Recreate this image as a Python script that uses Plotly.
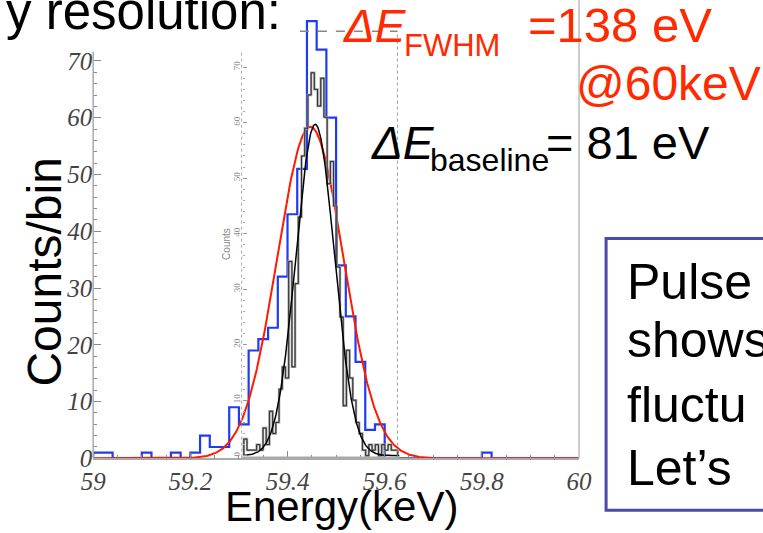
import numpy as np
import plotly.graph_objects as go

W, H = 763, 533

# ---------------- data ----------------
# blue histogram (main axes), bin width 0.02 keV starting at 59.00
blue_bin_width = 0.02
blue_start = 59.00
blue_counts = [1, 1, 0, 0, 0, 1, 0, 0, 1, 0,
               1, 4, 2, 2, 9, 6, 19, 21, 23, 32,
               43, 51, 77, 72, 60, 34, 25, 17, 5, 6,
               0, 0, 0, 0, 0, 0, 0, 0, 0, 0,
               1, 0, 0, 0, 0, 0, 0, 0, 0, 0]

# red gaussian fit (main axes)
red_amp, red_mu, red_sigma = 58.4, 59.447, 0.068

# black histogram (inset), bin width 0.0066 keV starting at 59.31
black_bin_width = 0.0066
black_start = 59.31
black_counts = [3, 1, 1, 1, 2, 1, 5, 2, 8, 4,
                6, 12, 16, 14, 35, 16, 31, 43, 54, 59,
                65, 69, 66, 63, 68, 61, 49, 53, 45, 34,
                25, 9, 19, 14, 10, 6, 4, 1, 0, 2,
                1, 2, 0, 2, 1, 2, 1, 1]

# black gaussian fit (inset)
blk_amp, blk_mu, blk_sigma = 59.7, 59.457, 0.0395

x_ticks = [59.0, 59.2, 59.4, 59.6, 59.8, 60.0]
x_ticklabels = ["59", "59.2", "59.4", "59.6", "59.8", "60"]
y_ticks = [0, 10, 20, 30, 40, 50, 60, 70]
y_ticklabels = ["0", "10", "20", "30", "40", "50", "60", "70"]
inset_y_ticks = [0, 10, 20, 30, 40, 50, 60, 70]
inset_y_ticklabels = ["0", "10", "20", "30", "40", "50", "60", "70"]

# ---------------- helpers (layout only) ----------------
def px(xp):
    return xp / W

def py(yp):
    return 1 - yp / H

def step_xy(start, width, counts):
    edges = [start + width * i for i in range(len(counts) + 1)]
    xs = [edges[0]] + edges
    ys = [0] + list(counts) + [counts[-1]]
    xs = xs + [edges[-1]]
    ys = ys + [0]
    return xs, ys

fig = go.Figure()

# blue histogram
bx, by = step_xy(blue_start, blue_bin_width, blue_counts)
fig.add_trace(go.Scatter(x=bx, y=by, mode="lines", line_shape="hv",
                         line=dict(color="#1f3cf0", width=2.2),
                         hoverinfo="skip", showlegend=False))

# black histogram (inset, y2)
kx, ky = step_xy(black_start, black_bin_width, black_counts)
fig.add_trace(go.Scatter(x=kx, y=ky, mode="lines", line_shape="hv",
                         line=dict(color="#a0a0a0", width=2.4),
                         yaxis="y2", hoverinfo="skip", showlegend=False))
fig.add_trace(go.Scatter(x=kx, y=ky, mode="lines", line_shape="hv",
                         line=dict(color="#111111", width=0.8),
                         yaxis="y2", hoverinfo="skip", showlegend=False))

# black fit
ex = np.linspace(59.31, 59.63, 300)
fig.add_trace(go.Scatter(x=ex, y=blk_amp * np.exp(-0.5 * ((ex - blk_mu) / blk_sigma) ** 2),
                         mode="lines", line=dict(color="#000000", width=1.5),
                         yaxis="y2", hoverinfo="skip", showlegend=False))

# red fit
rx = np.linspace(59.0, 60.0, 600)
fig.add_trace(go.Scatter(x=rx, y=red_amp * np.exp(-0.5 * ((rx - red_mu) / red_sigma) ** 2),
                         mode="lines", line=dict(color="#ff1a00", width=2),
                         hoverinfo="skip", showlegend=False))

tickfont = dict(family="Liberation Serif, Times New Roman, serif", size=25,
                color="#444444", style="italic")

y_top = 470.7 / 5.83

fig.update_layout(
    width=W, height=H,
    margin=dict(l=0, r=0, t=0, b=0),
    paper_bgcolor="white", plot_bgcolor="white",
    xaxis=dict(domain=[px(83), px(586)], range=[59.0, 60.0],
               tickmode="array", tickvals=x_ticks, ticktext=x_ticklabels,
               ticks="inside", ticklen=8, tickcolor="#888888", tickwidth=1,
               minor=dict(tickmode="array",
                          tickvals=[59.05, 59.1, 59.15, 59.25, 59.3, 59.35, 59.45, 59.5, 59.55,
                                    59.65, 59.7, 59.75, 59.85, 59.9, 59.95],
                          ticks="inside", ticklen=4, tickcolor="#888888"),
               showline=True, linecolor="#aaaaaa", linewidth=1.5,
               showgrid=False, zeroline=False, tickfont=tickfont),
    yaxis=dict(domain=[py(470.7), 1], range=[0, y_top],
               tickmode="array", tickvals=y_ticks, ticktext=y_ticklabels,
               ticks="inside", ticklen=8, tickcolor="#888888",
               minor=dict(tickmode="array",
                          tickvals=[v for v in range(2, 72, 2) if v % 10 != 0],
                          ticks="inside", ticklen=4, tickcolor="#888888"),
               showline=False, showgrid=False, zeroline=False, tickfont=tickfont),
    yaxis2=dict(overlaying="y", anchor="free", position=px(236.7), side="left",
                range=[-(470.7 - 468) / 5.7, 468 / 5.7],
                tickmode="array", tickvals=inset_y_ticks, ticktext=inset_y_ticklabels,
                ticks="inside", ticklen=4, tickcolor="#999999",
                minor=dict(tickmode="array",
                           tickvals=[v for v in range(2, 72, 2) if v % 10 != 0],
                           ticks="inside", ticklen=2, tickcolor="#aaaaaa"),
                tickangle=-90,
                tickfont=dict(family="Liberation Serif, serif", size=9, color="#888888"),
                showline=False, showgrid=False, zeroline=False),
)

shapes = []
# main left axis line (starts below the title area)
shapes.append(dict(type="line", xref="paper", yref="paper",
                   x0=px(83), x1=px(83), y0=py(470.7), y1=py(53),
                   line=dict(color="#aaaaaa", width=1.5)))
# main right axis line
shapes.append(dict(type="line", xref="paper", yref="paper",
                   x0=px(586), x1=px(586), y0=py(470.7), y1=1,
                   line=dict(color="#bbbbbb", width=1.5)))
# inset frame
shapes.append(dict(type="line", xref="paper", yref="paper",
                   x0=px(236.7), x1=px(236.7), y0=py(470), y1=py(53),
                   line=dict(color="#aaaaaa", width=1, dash="dot")))
shapes.append(dict(type="line", xref="paper", yref="paper",
                   x0=px(398), x1=px(398), y0=py(470), y1=py(32),
                   line=dict(color="#999999", width=1, dash="dot")))
shapes.append(dict(type="line", xref="paper", yref="paper",
                   x0=px(297), x1=px(398), y0=py(32), y1=py(32),
                   line=dict(color="#888888", width=1.5, dash="dash")))
shapes.append(dict(type="line", xref="paper", yref="paper",
                   x0=px(236.7), x1=px(400), y0=py(470), y1=py(470),
                   line=dict(color="#aaaaaa", width=2.5)))
# slide text box
shapes.append(dict(type="rect", xref="paper", yref="paper",
                   x0=px(614), x1=px(800), y0=py(524), y1=py(245),
                   line=dict(color="#4a4aa8", width=3), fillcolor="rgba(0,0,0,0)"))
fig.update_layout(shapes=shapes)

SANS = "Liberation Sans, Arial, sans-serif"

def text(s, x_left, baseline, size, color="#000000", anchor="left"):
    center = baseline - 0.3465 * size
    fig.add_annotation(text=s, x=px(x_left), y=py(center), xref="paper", yref="paper",
                       xanchor=anchor, yanchor="middle", showarrow=False, borderpad=0,
                       font=dict(family=SANS, size=size, color=color))

RED = "#ff2a00"
text("y resolution:", -8, 29, 51)
text("<i>ΔE</i>", 341, 43, 46, RED)
text("FWHM", 404, 57, 31, RED)
text("=138 eV", 532, 43, 49, RED)
text("@60keV", 582, 102, 48, RED)
text("<i>ΔE</i>", 370, 163, 46)
text("baseline", 431, 175, 32)
text("= 81 eV", 551, 163, 47)
text("Energy(keV)", 340, 535, 42, anchor="center")

for line, bl in zip(["Pulse", "shows", "fluctu", "Let’s"], [307, 367, 433, 498]):
    text(line, 635, bl, 50)

fig.add_annotation(text="Counts/bin", x=px(33), y=py(279), xref="paper", yref="paper",
                   xanchor="center", yanchor="middle", showarrow=False, textangle=-90,
                   font=dict(family=SANS, size=48, color="#000000"))
fig.add_annotation(text="Counts", x=px(221), y=py(250), xref="paper", yref="paper",
                   xanchor="center", yanchor="middle", showarrow=False, textangle=-90,
                   font=dict(family=SANS, size=10, color="#888888"))

fig.write_html("out.html")
